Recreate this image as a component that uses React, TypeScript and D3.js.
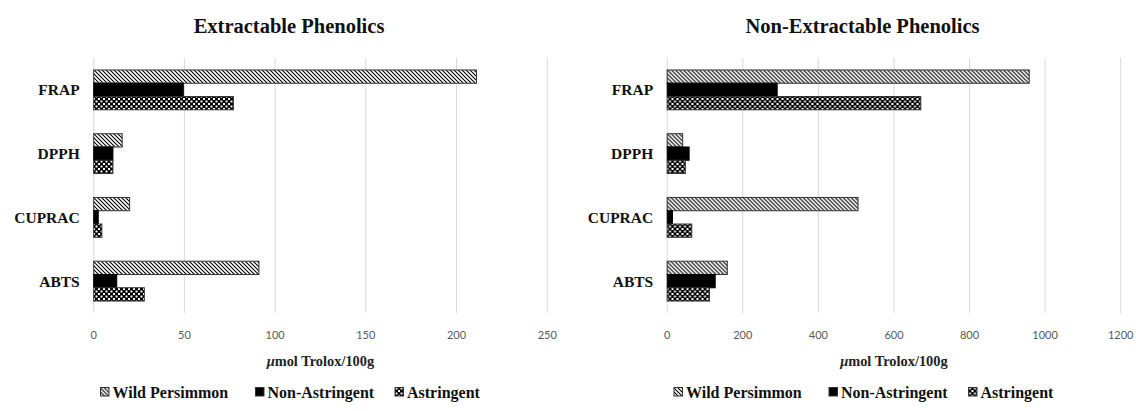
import React from 'react';
import * as d3 from 'd3';

const categories = ['FRAP', 'DPPH', 'CUPRAC', 'ABTS'];
const seriesNames = ['Wild Persimmon', 'Non-Astringent', 'Astringent'];

const extWild = [211, 15.7, 19.8, 91.1];
const extNonAstringent = [49.4, 10.6, 2.5, 12.7];
const extAstringent = [77, 10.6, 4.5, 27.9];

const nonExtWild = [958, 41, 505, 159];
const nonExtNonAstringent = [291, 58, 14, 127];
const nonExtAstringent = [671, 48, 65, 112];

const extTicks = [0, 50, 100, 150, 200, 250];
const nonExtTicks = [0, 200, 400, 600, 800, 1000, 1200];

const SERIF = '"Liberation Serif", "Times New Roman", serif';
const SANS = 'Lato, "Open Sans", sans-serif';

const fills = ['url(#diag)', '#000', 'url(#check)'];

const Panel = ({ x, title, ticks, series }) => {
  const x0 = 93.7;
  const x1 = 547.2;
  const top = 58;
  const bottom = 313;

  const xScale = d3.scaleLinear()
    .domain([ticks[0], ticks[ticks.length - 1]])
    .range([x0, x1]);

  const yScale = d3.scaleBand()
    .domain(categories)
    .range([top, bottom])
    .paddingInner(0.375)
    .paddingOuter(0.1875);

  const inner = d3.scaleBand()
    .domain(seriesNames)
    .range([0, yScale.bandwidth()]);

  const legendX = [100.5, 255.5, 395];

  return (
    <g transform={`translate(${x},0)`}>
      <text x={289} y={33} textAnchor='middle' fontFamily={SERIF} fontWeight='bold' fontSize={20.5} fill='#111'>{title}</text>
      {ticks.map(t => (
        <line key={t} x1={xScale(t)} x2={xScale(t)} y1={top} y2={bottom} stroke='#d9d9d9' strokeWidth={1} />
      ))}
      {categories.map((c, ci) => (
        <g key={c}>
          {series.map((s, si) => (
            <rect key={si}
              x={xScale(0)}
              y={yScale(c) + inner(seriesNames[si])}
              width={xScale(s[ci]) - xScale(0)}
              height={inner.bandwidth()}
              fill={fills[si]}
              stroke={si === 1 ? '#000' : '#333'}
              strokeWidth={1} />
          ))}
          <text x={x0 - 14} y={yScale(c) + yScale.bandwidth() / 2} dy='0.35em' textAnchor='end'
            fontFamily={SERIF} fontWeight='bold' fontSize={15.5} fill='#111'>{c}</text>
        </g>
      ))}
      {ticks.map(t => (
        <text key={t} x={xScale(t)} y={335} dy='0.35em' textAnchor='middle' fontFamily={SANS} fontSize={11} fill='#595959'>{t}</text>
      ))}
      <text x={(x0 + x1) / 2} y={361} dy='0.35em' textAnchor='middle' fontFamily={SERIF} fontWeight='bold' fontSize={14.4} fill='#222'>
        <tspan fontStyle='italic'>μ</tspan>mol Trolox/100g
      </text>
      {seriesNames.map((n, i) => (
        <g key={n} transform={`translate(${legendX[i]},392)`}>
          <rect x={0} y={-4.5} width={8.5} height={8.5} fill={fills[i]} stroke='#333' strokeWidth={1} />
          <text x={12} y={0} dy='0.35em' fontFamily={SERIF} fontWeight='bold' fontSize={16} fill='#111'>{n}</text>
        </g>
      ))}
    </g>
  );
};

const App = () => (
  <div style={{ position: 'absolute', left: 0, top: 0 }}>
    <svg width={1136} height={411} style={{ display: 'block', background: '#fff' }}>
      <defs>
        <pattern id='diag' patternUnits='userSpaceOnUse' width={4} height={4}>
          <rect width={4} height={4} fill='#fff' />
          <path d='M-1,-1 L5,5 M-1,3 L1,5 M3,-1 L5,1' stroke='#000' strokeWidth={1.1} />
        </pattern>
        <pattern id='check' patternUnits='userSpaceOnUse' width={5} height={5}>
          <rect width={5} height={5} fill='#000' />
          <rect x={0.5} y={0.5} width={2} height={2} fill='#fff' />
          <rect x={3} y={3} width={2} height={2} fill='#fff' />
        </pattern>
      </defs>
      <Panel x={0} title='Extractable Phenolics' ticks={extTicks}
        series={[extWild, extNonAstringent, extAstringent]} />
      <Panel x={573.5} title='Non-Extractable Phenolics' ticks={nonExtTicks}
        series={[nonExtWild, nonExtNonAstringent, nonExtAstringent]} />
    </svg>
  </div>
);

export default App;
